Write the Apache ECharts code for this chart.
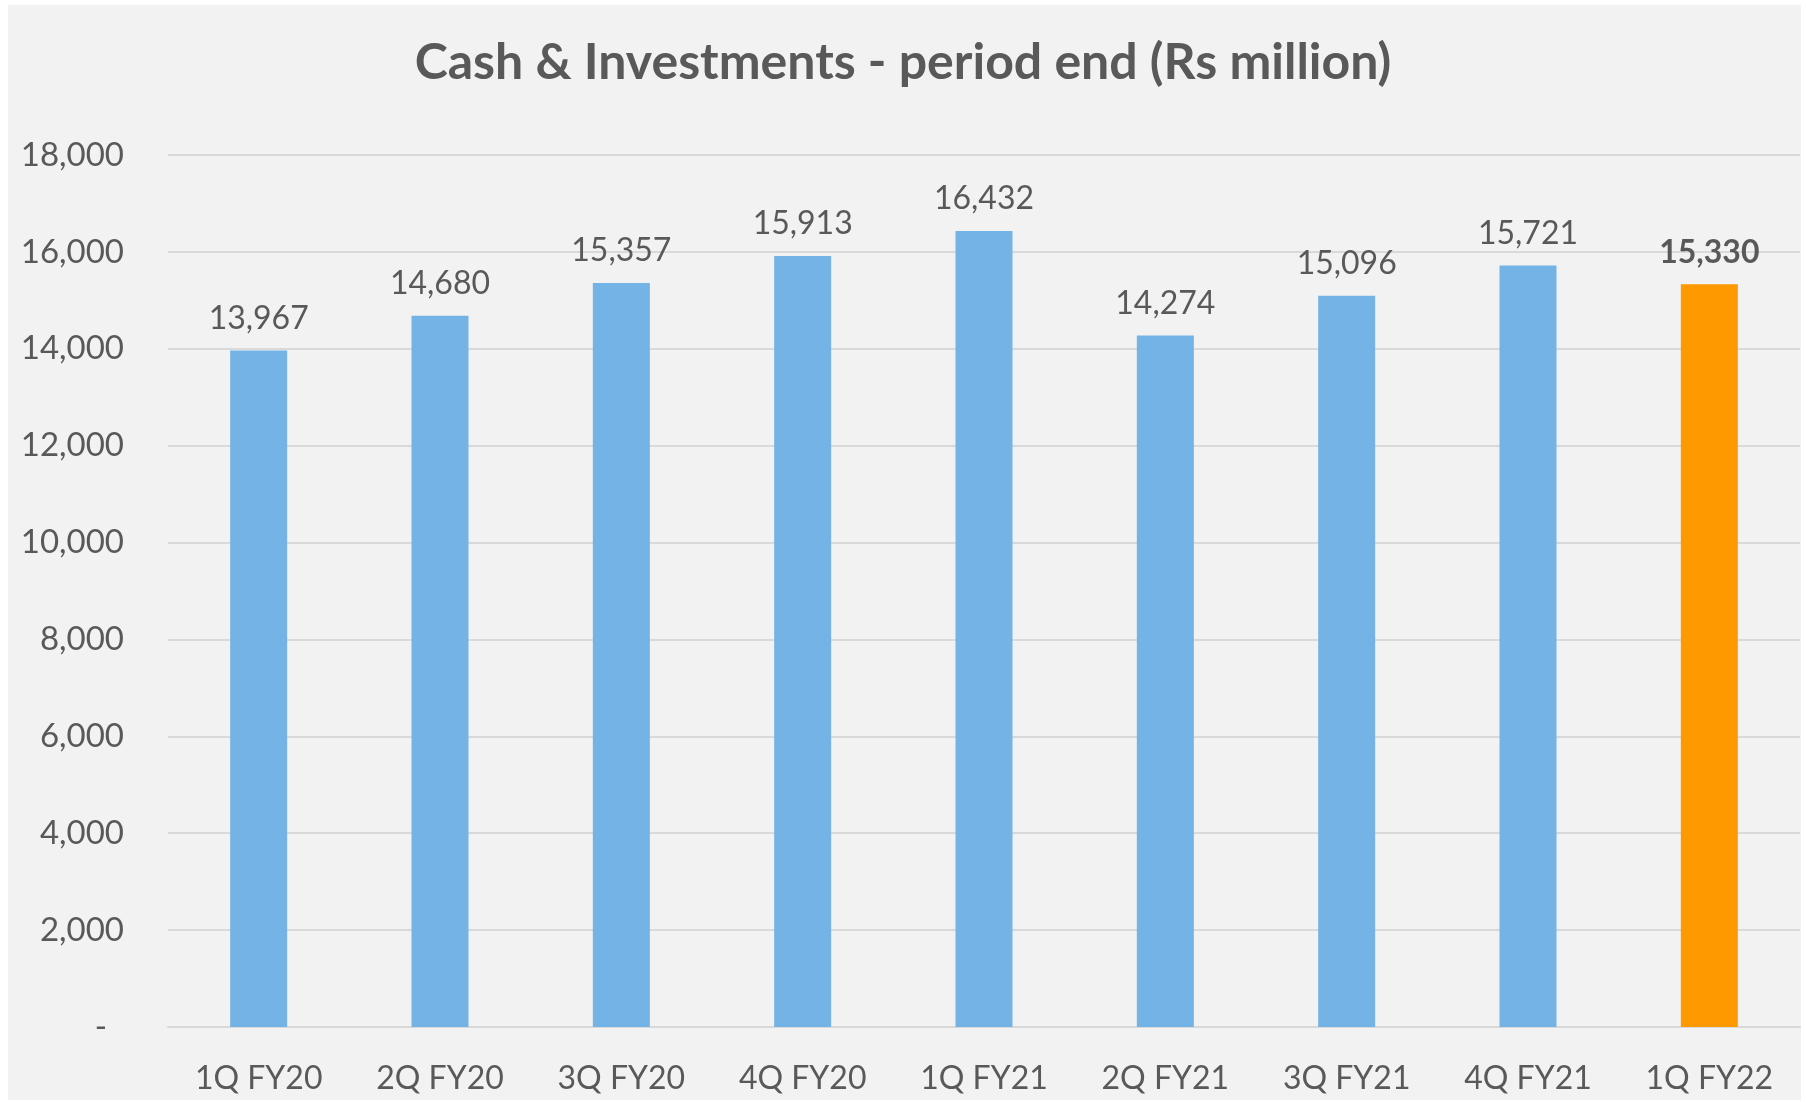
<!DOCTYPE html>
<html>
<head>
<meta charset="utf-8">
<script src="https://cdn.jsdelivr.net/npm/echarts@6/dist/echarts.min.js"></script>
<style>
  html, body { margin: 0; padding: 0; background: #ffffff; }
  #panel { position: absolute; left: 8px; top: 5px; width: 1793px; height: 1095px; background: #f2f2f2; }
  #chart { position: absolute; left: 0; top: 0; width: 1806px; height: 1102px; }
</style>
</head>
<body>
<div id="panel"></div>
<div id="chart"></div>
<script>
// Quarter labels and period-end balances (Rs million)
const categories = ['1Q FY20', '2Q FY20', '3Q FY20', '4Q FY20', '1Q FY21', '2Q FY21', '3Q FY21', '4Q FY21', '1Q FY22'];
const values = [13967, 14680, 15357, 15913, 16432, 14274, 15096, 15721, 15330];
const highlightIndex = 8; // latest quarter is shown in orange

const FONT = 'Lato';
const TEXT = '#595959';
const BLUE = '#74b3e6';
const ORANGE = '#ff9900';

const fmt = v => v.toLocaleString('en-US');

const seriesData = values.map((v, i) => ({
  value: v,
  itemStyle: { color: i === highlightIndex ? ORANGE : BLUE },
  label: i === highlightIndex ? { fontWeight: 'bold' } : undefined
}));

const chart = echarts.init(document.getElementById('chart'));
chart.setOption({
  backgroundColor: 'transparent',
  animation: false,
  textStyle: { fontFamily: FONT, color: TEXT },
  title: {
    text: 'Cash & Investments - period end (Rs million)',
    left: 'center',
    top: 33,
    textStyle: { fontFamily: FONT, fontSize: 50, fontWeight: 'bold', color: TEXT }
  },
  grid: { left: 168, right: 6, top: 155, bottom: 75, containLabel: false },
  xAxis: {
    type: 'category',
    data: categories,
    axisLine: { show: true, lineStyle: { color: '#d9d9d9', width: 2 } },
    axisTick: { show: false },
    axisLabel: { fontFamily: FONT, fontSize: 32, color: TEXT, margin: 36 }
  },
  yAxis: {
    type: 'value',
    min: 0,
    max: 18000,
    interval: 2000,
    axisLine: { show: false },
    axisTick: { show: false },
    splitLine: { lineStyle: { color: '#d9d9d9', width: 2 } },
    axisLabel: {
      fontFamily: FONT, fontSize: 33, color: TEXT, margin: 44,
      formatter: v => v === 0 ? '-  ' : fmt(v)
    }
  },
  series: [{
    type: 'bar',
    data: seriesData,
    barWidth: 57,
    label: {
      show: true,
      position: 'top',
      distance: 16,
      fontFamily: FONT,
      fontSize: 32,
      color: TEXT,
      formatter: p => fmt(p.value)
    }
  }]
});
</script>
</body>
</html>
